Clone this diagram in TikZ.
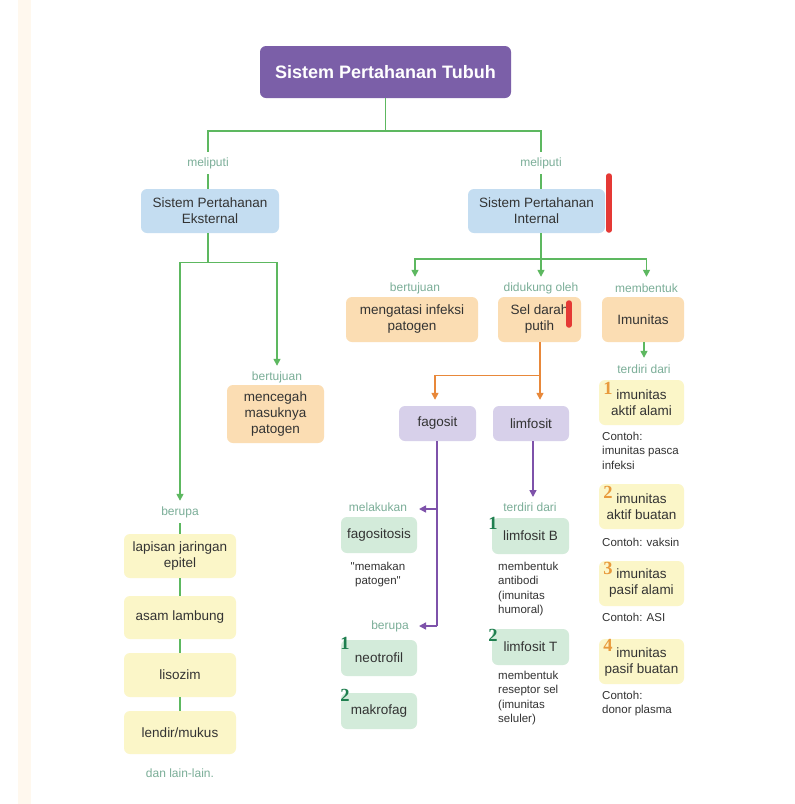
\documentclass[tikz,border=0pt]{standalone}
\usepackage{fontspec}
\setmainfont{Liberation Sans}[Ligatures=TeXOff]
\newfontfamily\numfont{Liberation Serif}
\usetikzlibrary{arrows.meta}
\definecolor{titlec}{HTML}{7B5FA8}
\definecolor{blueb}{HTML}{C4DDF1}
\definecolor{orb}{HTML}{FBDDB3}
\definecolor{yelb}{HTML}{FBF6C8}
\definecolor{purb}{HTML}{D7D0EA}
\definecolor{grnb}{HTML}{D3EBDA}
\definecolor{gline}{HTML}{5DB860}
\definecolor{oline}{HTML}{E8883A}
\definecolor{pline}{HTML}{7E52AA}
\definecolor{lblc}{HTML}{7BAE98}
\definecolor{txt}{HTML}{333333}
\definecolor{numo}{HTML}{E89A3C}
\definecolor{numg}{HTML}{1F7F4F}
\definecolor{stripc}{HTML}{FFF8EE}
\definecolor{redm}{HTML}{E53935}
\begin{document}
\begin{tikzpicture}[x=1pt,y=-1pt,
 box/.style={rounded corners=6pt, inner sep=0pt, align=center, text=txt, font=\fontsize{13.5}{16}\selectfont},
 lbl/.style={text=lblc, font=\fontsize{12}{14}\selectfont, inner sep=0pt, minimum height=22pt},
 note/.style={text=txt, font=\fontsize{11.5}{14.6}\selectfont, inner sep=0pt, align=left, anchor=north west},
 numlbl/.style={font=\numfont\bfseries\fontsize{18.5}{18.5}\selectfont, inner sep=0pt},
 gcon/.style={draw=gline, line width=1.5pt},
 ocon/.style={draw=oline, line width=1.5pt},
 pcon/.style={draw=pline, line width=1.5pt},
 tip/.style={-{Triangle[length=7pt,width=7pt]}}
]
\useasboundingbox (0,0) rectangle (795,804);
\fill[white] (0,0) rectangle (795,804);
\fill[stripc] (18,0) rectangle (31,804);

% ---------- title ----------
\node[box, fill=titlec, text=white, font=\bfseries\fontsize{18}{20}\selectfont,
      minimum width=251pt, minimum height=52pt] (T) at (385.5,72) {Sistem Pertahanan Tubuh};

\coordinate (j0) at (385.5,131);
\coordinate (jL) at (208,131);
\coordinate (jR) at (541,131);
\node[lbl] (mL) at (208,163) {meliputi};
\node[lbl] (mR) at (541,163) {meliputi};

\node[box, fill=blueb, minimum width=138pt, minimum height=44pt] (ext) at (210,211) {Sistem Pertahanan\\Eksternal};
\node[box, fill=blueb, minimum width=137pt, minimum height=44pt] (int) at (536.5,211) {Sistem Pertahanan\\Internal};

\draw[gcon] (T.south) -- (j0) -- (jL) -- (mL.north);
\draw[gcon] (j0) -- (jR) -- (mR.north);
\draw[gcon] (mL.south) -- (mL.south |- ext.north);
\draw[gcon] (mR.south) -- (mR.south |- int.north);

% ---------- external branch ----------
\coordinate (eJ) at (208,262.5);
\coordinate (eA) at (180,262.5);
\coordinate (eB) at (277,262.5);
\node[lbl] (btL) at (277,377) {bertujuan};
\node[lbl] (brL) at (180,512) {berupa};
\draw[gcon,tip] (ext.south -| eJ) -- (eJ) -- (eA) -- (brL.north);
\draw[gcon,tip] (eJ) -- (eB) -- (btL.north);

\node[box, fill=orb, minimum width=97pt, minimum height=58pt] (cg) at (275.5,414) {mencegah\\masuknya\\patogen};

\node[box, fill=yelb, minimum width=112pt, minimum height=44pt] (lap) at (180,556) {lapisan jaringan\\epitel};
\node[box, fill=yelb, minimum width=112pt, minimum height=43pt] (asam) at (180,617.5) {asam lambung};
\node[box, fill=yelb, minimum width=112pt, minimum height=44pt] (lis) at (180,675) {lisozim};
\node[box, fill=yelb, minimum width=112pt, minimum height=43pt] (len) at (180,732.5) {lendir/mukus};
\draw[gcon] (brL.south) -- (lap.north);
\draw[gcon] (lap.south) -- (asam.north);
\draw[gcon] (asam.south) -- (lis.north);
\draw[gcon] (lis.south) -- (len.north);
\node[lbl] (dl) at (180,773) {dan lain-lain.};

% ---------- internal branch ----------
\coordinate (iJ) at (541,259);
\coordinate (iA) at (415,259);
\coordinate (iC) at (646.5,259);
\node[lbl] (bt2) at (415,288) {bertujuan};
\node[lbl] (dk) at (541,288) {didukung oleh};
\node[lbl] (mb) at (646.5,288) {membentuk};
\draw[gcon,tip] (int.south -| iJ) -- (dk.north);
\draw[gcon,tip] (iJ) -- (iA) -- (bt2.north);
\draw[gcon,tip] (iJ) -- (iC) -- (mb.north);

\node[box, fill=orb, minimum width=132pt, minimum height=45pt] (atasi) at (412,319.5) {mengatasi infeksi\\patogen};
\node[box, fill=orb, minimum width=83pt, minimum height=45pt] (sel) at (539.5,319.5) {Sel darah\\putih};
\node[box, fill=orb, minimum width=82pt, minimum height=45pt] (imun) at (643,319.5) {Imunitas};

% orange split
\coordinate (oJ) at (540,375.5);
\coordinate (oA) at (435,375.5);
\node[box, fill=purb, minimum width=77pt, minimum height=35pt] (fag) at (437.5,423.5) {fagosit};
\node[box, fill=purb, minimum width=76pt, minimum height=35pt] (limf) at (531,423.5) {limfosit};
\draw[ocon,tip,shorten >=6pt] (sel.south -| oJ) -- (oJ |- limf.north);
\draw[ocon,tip,shorten >=6pt] (oJ) -- (oA) -- (oA |- fag.north);

% fagosit branch
\coordinate (p1) at (437,509);
\coordinate (p2) at (437,626);
\coordinate (q1) at (419,509);
\coordinate (q2) at (419,626);
\node[lbl] (mel) at (378,507) {melakukan};
\node[lbl] (br2) at (390,626) {berupa};
\draw[pcon] (fag.south -| p1) -- (p2);
\draw[pcon,tip] (p1) -- (q1);
\draw[pcon,tip] (p2) -- (q2);

\node[box, fill=grnb, minimum width=76pt, minimum height=36pt] (fgs) at (379,535) {fagositosis};
\node[note, anchor=north, align=center] (mkn) at (378,561.6) {"memakan\\patogen"};
\node[box, fill=grnb, minimum width=76pt, minimum height=36pt] (neo) at (379,658) {neotrofil};
\node[box, fill=grnb, minimum width=76pt, minimum height=36pt] (mak) at (379,711) {makrofag};
\node[numlbl, text=numg] (n1) at (345,643) {1};
\node[numlbl, text=numg] (n2) at (345,695) {2};

% limfosit branch
\coordinate (lT) at (533,497);
\node[lbl] (td2) at (530,507) {terdiri dari};
\draw[pcon,tip] (limf.south -| lT) -- (lT);
\node[box, fill=grnb, minimum width=77pt, minimum height=36pt] (lB) at (530.5,536) {limfosit B};
\node[box, fill=grnb, minimum width=77pt, minimum height=36pt] (lTb) at (530.5,647) {limfosit T};
\node[numlbl, text=numg] (n3) at (493,523) {1};
\node[numlbl, text=numg] (n4) at (493,635) {2};
\node[note] (ab) at (498,561.6) {membentuk\\antibodi\\(imunitas\\humoral)};
\node[note] (rs) at (498,670.6) {membentuk\\reseptor sel\\(imunitas\\seluler)};

% imunitas branch
\node[lbl] (td1) at (644,369) {terdiri dari};
\draw[gcon,tip] (imun.south -| td1) -- (td1.north);
\node[box, fill=yelb, minimum width=85pt, minimum height=45pt] (y1) at (641.5,402.5) {imunitas\\aktif alami};
\node[box, fill=yelb, minimum width=85pt, minimum height=45pt] (y2) at (641.5,506.5) {imunitas\\aktif buatan};
\node[box, fill=yelb, minimum width=85pt, minimum height=45pt] (y3) at (641.5,583.5) {imunitas\\pasif alami};
\node[box, fill=yelb, minimum width=85pt, minimum height=45pt] (y4) at (641.5,661.5) {imunitas\\pasif buatan};
\node[numlbl, text=numo] (k1) at (608,388) {1};
\node[numlbl, text=numo] (k2) at (608,492) {2};
\node[numlbl, text=numo] (k3) at (608,568) {3};
\node[numlbl, text=numo] (k4) at (608,645) {4};
\node[note] (c1) at (602,431.8) {Contoh:\\imunitas pasca\\infeksi};
\node[note] (c2) at (602,537.6) {Contoh: vaksin};
\node[note] (c3) at (602,612.6) {Contoh: ASI};
\node[note] (c4) at (602,690.6) {Contoh:\\donor plasma};

% red marks
\draw[redm, line width=5.5pt, line cap=round] (609,176) -- (609,230);
\draw[redm, line width=5.5pt, line cap=round] (569,303) -- (569,325);
\end{tikzpicture}
\end{document}
